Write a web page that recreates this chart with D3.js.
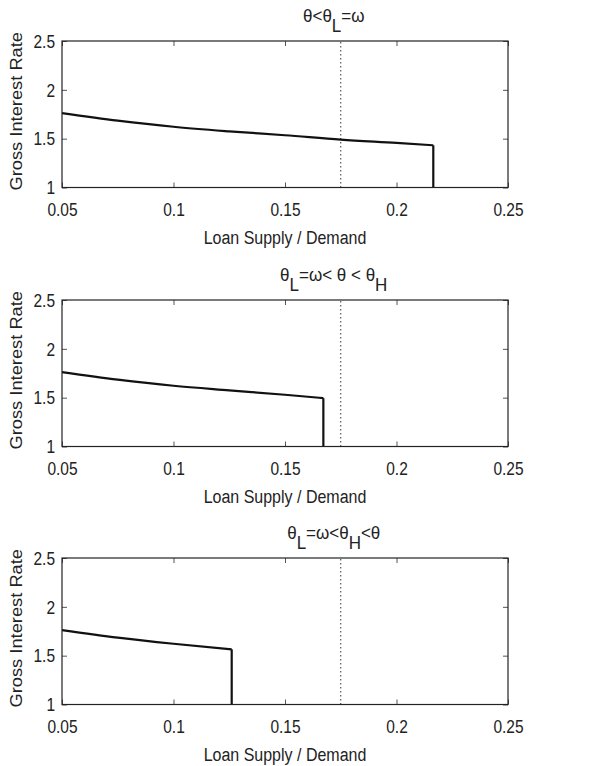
<!DOCTYPE html>
<html>
<head>
<meta charset="utf-8">
<script src="https://cdn.jsdelivr.net/npm/d3@7"></script>
<style>
  html, body { margin: 0; padding: 0; background: #fff; }
  text { font-family: "Liberation Sans", Arial, Helvetica, sans-serif; fill: #222; }
</style>
</head>
<body>
<svg id="chart" width="612" height="766"></svg>
<script>
// ---- data ----
const xTicks = [0.05, 0.1, 0.15, 0.2, 0.25];
const yTicks = [1, 1.5, 2, 2.5];
const xDomain = [0.05, 0.25];
const yDomain = [1, 2.5];
const thresholdX = 0.175;

const panel1X = [0.05, 0.075, 0.1, 0.125, 0.15, 0.175, 0.2, 0.2165];
const panel1Y = [1.762, 1.685, 1.622, 1.575, 1.535, 1.49, 1.456, 1.432];
const panel2X = [0.05, 0.075, 0.1, 0.125, 0.15, 0.1672];
const panel2Y = [1.762, 1.685, 1.622, 1.575, 1.53, 1.495];
const panel3X = [0.05, 0.075, 0.1, 0.1261];
const panel3Y = [1.762, 1.685, 1.622, 1.565];

const xLabel = "Loan Supply / Demand";
const yLabel = "Gross Interest Rate";
// titles as [text, subscript] segments
const titles = [
  [["θ<θ", null], ["L", "sub"], ["=ω", null]],
  [["θ", null], ["L", "sub"], ["=ω< θ < θ", null], ["H", "sub"]],
  [["θ", null], ["L", "sub"], ["=ω<θ", null], ["H", "sub"], ["<θ", null]]
];

const panels = [
  {xs: panel1X, ys: panel1Y, title: titles[0]},
  {xs: panel2X, ys: panel2Y, title: titles[1]},
  {xs: panel3X, ys: panel3Y, title: titles[2]}
];

// ---- layout ----
const left = 62, right = 508;
const tops = [41, 300, 558];
const plotH = 146.5;
const vs = 1.13; // vertical stretch of glyphs seen in the reference
const svg = d3.select("#chart");

panels.forEach((p, i) => {
  const top = tops[i];
  const bottom = top + plotH;
  const x = d3.scaleLinear().domain(xDomain).range([left, right]);
  const y = d3.scaleLinear().domain(yDomain).range([bottom, top]);
  const g = svg.append("g");

  // inward ticks on all four sides
  const tl = 5;
  const bottomAxis = d3.axisBottom(x).tickValues(xTicks).tickSize(-tl).tickFormat(d3.format(""));
  const topAxis = d3.axisTop(x).tickValues(xTicks).tickSize(-tl).tickFormat("");
  const leftAxis = d3.axisLeft(y).tickValues(yTicks).tickSize(-tl).tickFormat(d3.format(""));
  const rightAxis = d3.axisRight(y).tickValues(yTicks).tickSize(-tl).tickFormat("");

  const styleAxis = sel => {
    sel.select(".domain").remove();
    sel.selectAll(".tick line").attr("stroke", "#555").attr("stroke-width", 1);
    sel.selectAll(".tick text").attr("font-size", 15.5).attr("fill", "#222")
      .style("font-family", '"Liberation Sans", Arial, sans-serif');
  };

  g.append("g").attr("transform", `translate(0,${bottom})`).call(bottomAxis).call(styleAxis)
    .selectAll(".tick text").attr("x", 0).attr("y", 0).attr("dy", null)
    .attr("text-anchor", "middle")
    .attr("transform", `translate(0,28) scale(1,${vs})`);
  g.append("g").attr("transform", `translate(0,${top})`).call(topAxis).call(styleAxis);
  g.append("g").attr("transform", `translate(${left},0)`).call(leftAxis).call(styleAxis)
    .selectAll(".tick text").attr("x", 0).attr("y", 0).attr("dy", "0.36em")
    .attr("text-anchor", "end")
    .attr("transform", `translate(-7,0) scale(1,${vs})`);
  g.append("g").attr("transform", `translate(${right},0)`).call(rightAxis).call(styleAxis);

  // dotted threshold line
  g.append("line")
    .attr("x1", x(thresholdX)).attr("x2", x(thresholdX))
    .attr("y1", y(yDomain[0])).attr("y2", y(yDomain[1]))
    .attr("stroke", "#333").attr("stroke-width", 1)
    .attr("stroke-dasharray", "1.5,2.5");

  // curve + vertical drop
  const pts = p.xs.map((v, k) => [v, p.ys[k]]);
  const line = d3.line().x(d => x(d[0])).y(d => y(d[1])).curve(d3.curveMonotoneX);
  g.append("path").attr("d", line(pts))
    .attr("fill", "none").attr("stroke", "#111").attr("stroke-width", 2.2);
  const last = pts[pts.length - 1];
  g.append("path").attr("d", d3.line()([[x(last[0]), y(last[1])], [x(last[0]), y(yDomain[0])]]))
    .attr("fill", "none").attr("stroke", "#111").attr("stroke-width", 2.2);

  // box
  g.append("rect").attr("x", left).attr("y", top).attr("width", right - left).attr("height", plotH)
    .attr("fill", "none").attr("stroke", "#222").attr("stroke-width", 1.2);

  // labels
  g.append("text").attr("transform", `translate(${(left + right) / 2},${bottom + 56}) scale(1,${vs})`)
    .attr("text-anchor", "middle").attr("font-size", 16).text(xLabel);
  g.append("text").attr("transform", `translate(22,${(top + bottom) / 2 - 3}) rotate(-90) scale(${vs},1)`)
    .attr("text-anchor", "middle").attr("font-size", 16.2).text(yLabel);

  // title
  const t = g.append("text").attr("transform", `translate(${x(thresholdX) - 7},${top - 19.5}) scale(1,${vs})`)
    .attr("text-anchor", "middle").attr("font-size", 17);
  let shifted = false;
  p.title.forEach(([txt, kind]) => {
    const ts = t.append("tspan").text(txt);
    if (kind === "sub" && !shifted) { ts.attr("dy", 9); shifted = true; }
    else if (kind !== "sub" && shifted) { ts.attr("dy", -9); shifted = false; }
  });
});
</script>
</body>
</html>
